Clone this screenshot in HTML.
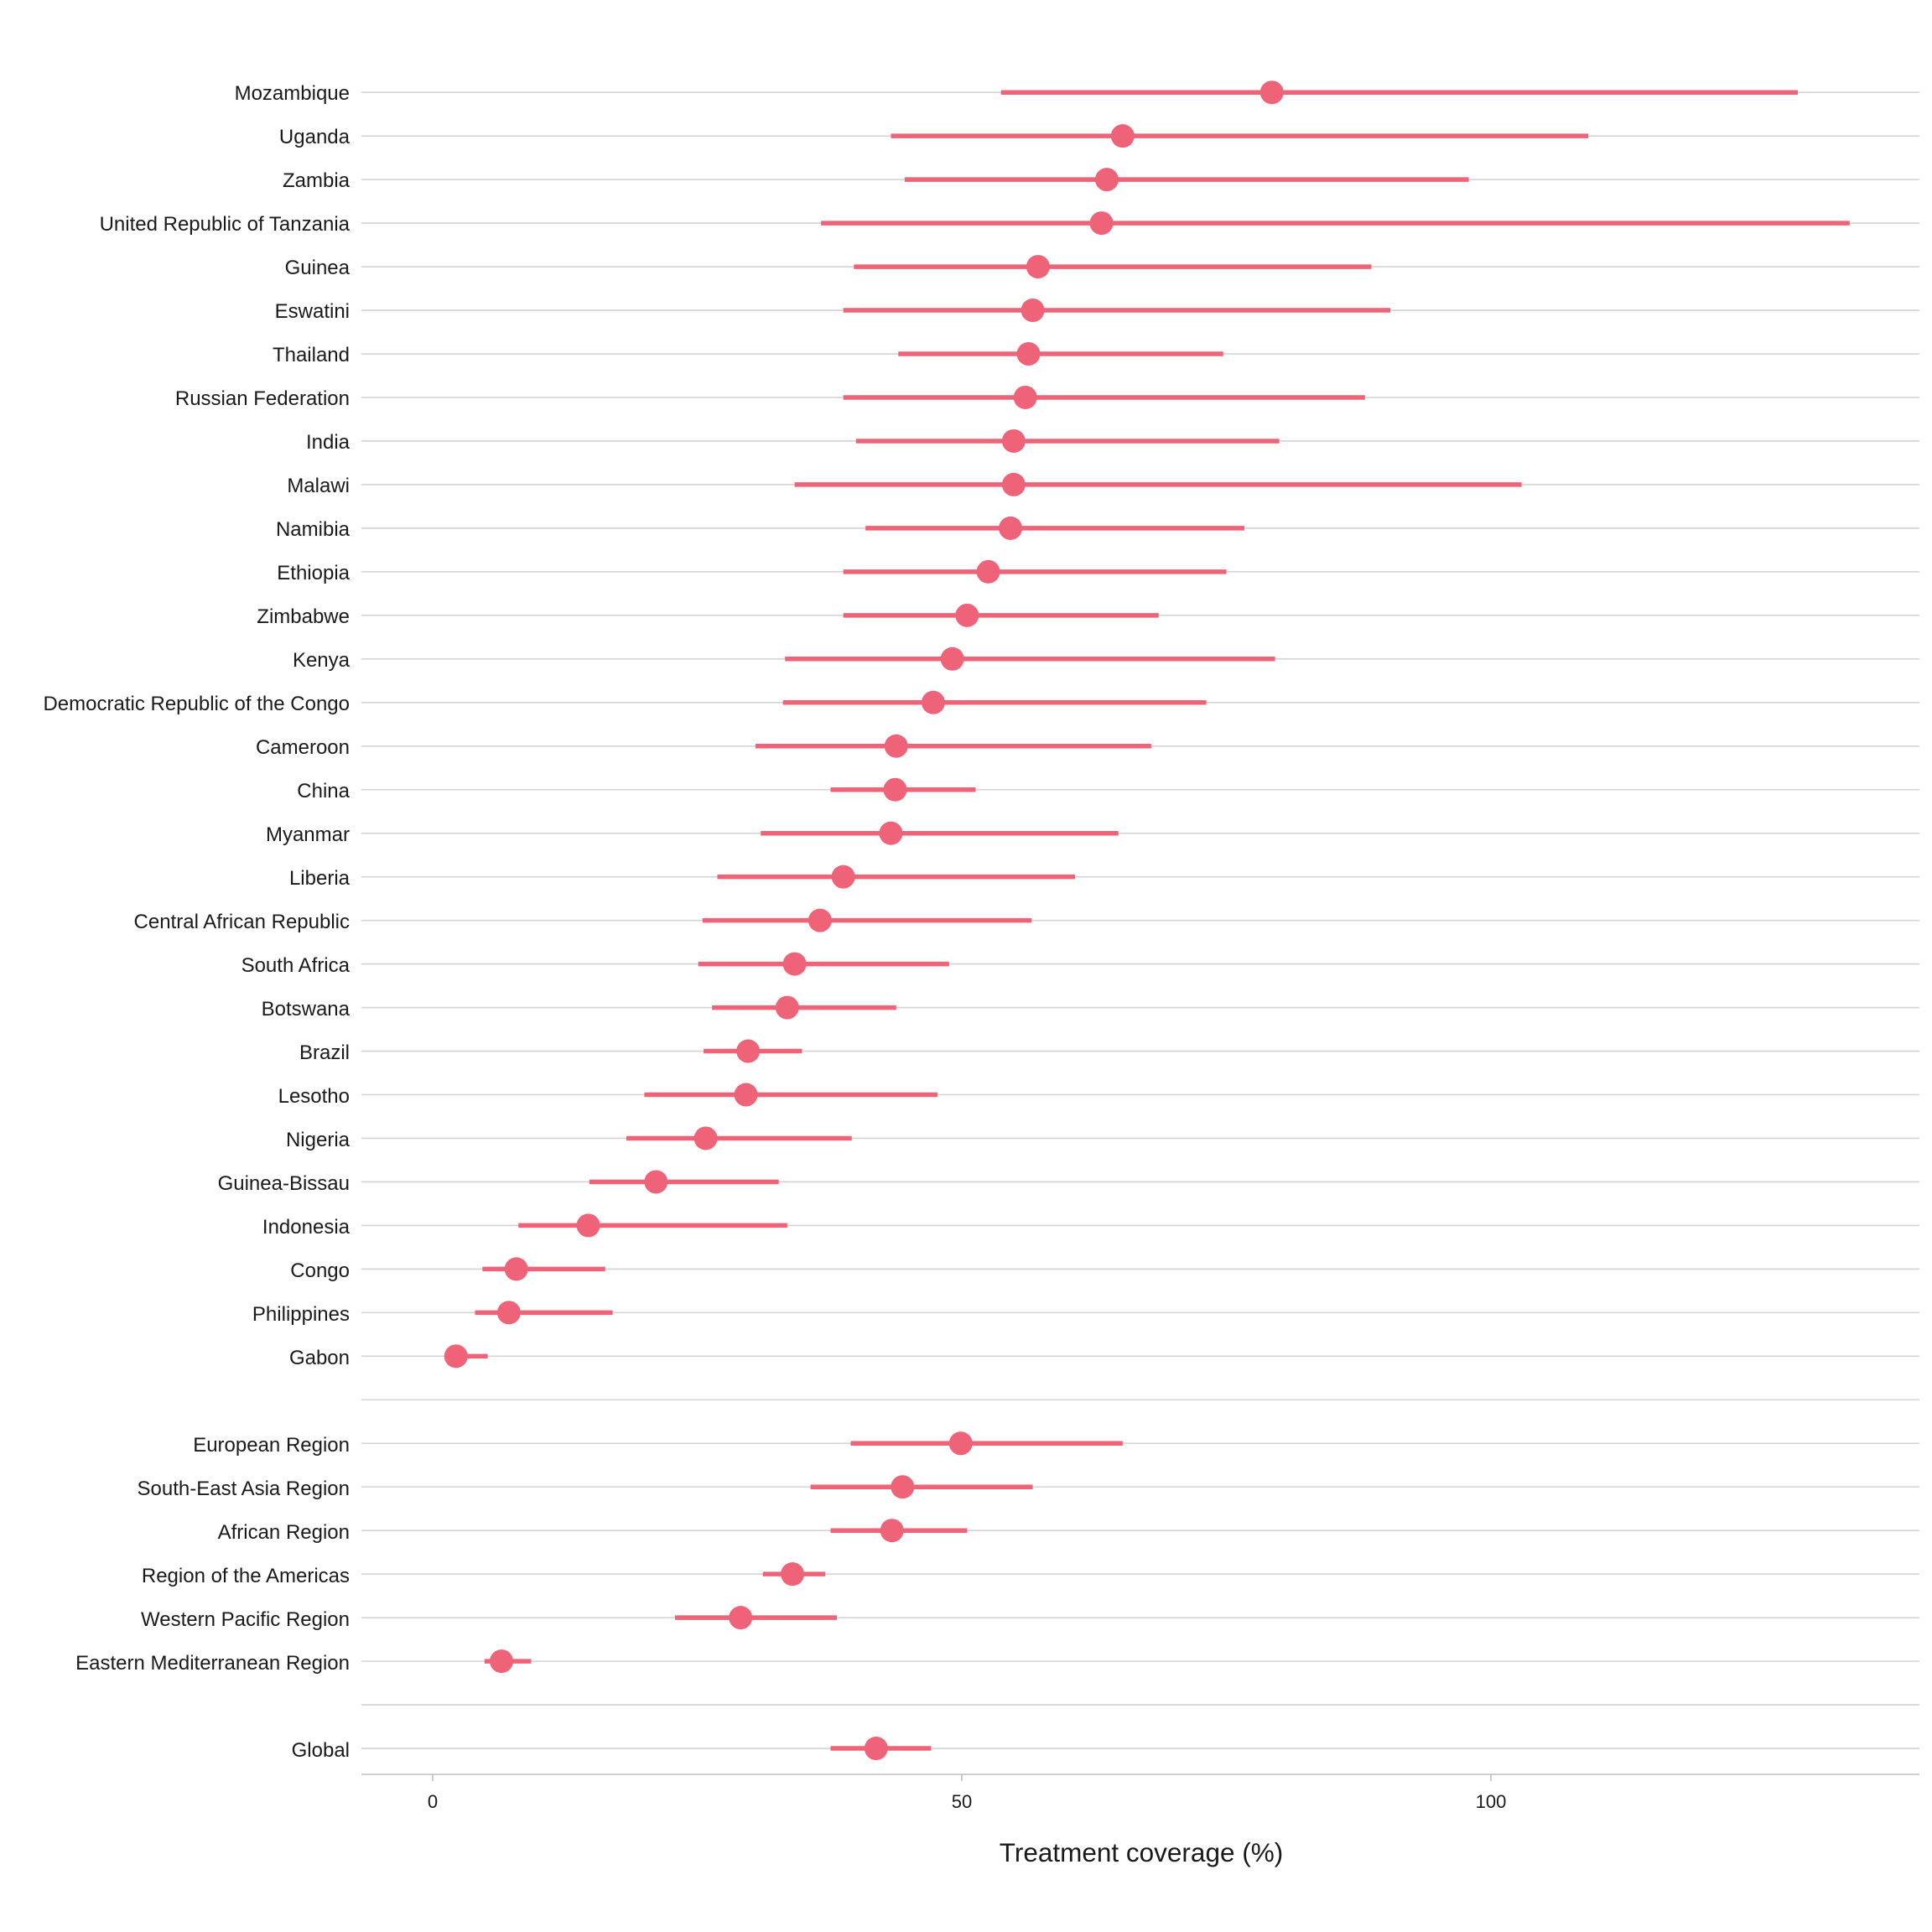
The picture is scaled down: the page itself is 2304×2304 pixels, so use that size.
<!DOCTYPE html>
<html><head><meta charset="utf-8"><style>
html,body{margin:0;padding:0;background:#fff;}
svg{display:block;}
text{font-family:"Liberation Sans",Arial,sans-serif;fill:#1a1a1a;}
</style></head><body>
<svg id="s" width="2304" height="2304" viewBox="0 0 2304 2304" xmlns="http://www.w3.org/2000/svg">
<g id="grid"></g>
<g id="data"></g>
<g font-size="24" text-anchor="end" id="labels">
<text x="417" y="119">Mozambique</text>
<text x="417" y="171">Uganda</text>
<text x="417" y="223">Zambia</text>
<text x="417" y="275">United Republic of Tanzania</text>
<text x="417" y="327">Guinea</text>
<text x="417" y="379">Eswatini</text>
<text x="417" y="431">Thailand</text>
<text x="417" y="483">Russian Federation</text>
<text x="417" y="535">India</text>
<text x="417" y="587">Malawi</text>
<text x="417" y="639">Namibia</text>
<text x="417" y="691">Ethiopia</text>
<text x="417" y="743">Zimbabwe</text>
<text x="417" y="795">Kenya</text>
<text x="417" y="847">Democratic Republic of the Congo</text>
<text x="417" y="899">Cameroon</text>
<text x="417" y="951">China</text>
<text x="417" y="1003">Myanmar</text>
<text x="417" y="1055">Liberia</text>
<text x="417" y="1107">Central African Republic</text>
<text x="417" y="1159">South Africa</text>
<text x="417" y="1211">Botswana</text>
<text x="417" y="1263">Brazil</text>
<text x="417" y="1315">Lesotho</text>
<text x="417" y="1367">Nigeria</text>
<text x="417" y="1419">Guinea-Bissau</text>
<text x="417" y="1471">Indonesia</text>
<text x="417" y="1523">Congo</text>
<text x="417" y="1575">Philippines</text>
<text x="417" y="1627">Gabon</text>
<text x="417" y="1731">European Region</text>
<text x="417" y="1783">South-East Asia Region</text>
<text x="417" y="1835">African Region</text>
<text x="417" y="1887">Region of the Americas</text>
<text x="417" y="1939">Western Pacific Region</text>
<text x="417" y="1991">Eastern Mediterranean Region</text>
<text x="417" y="2095">Global</text>
</g>
<g font-size="22" text-anchor="middle" fill="#333">
<text x="516" y="2156">0</text>
<text x="1147" y="2156">50</text>
<text x="1778" y="2156">100</text>
</g>
<text x="1361" y="2220" font-size="31.5" text-anchor="middle">Treatment coverage (%)</text>
</svg>
<script>
var d=[[79.3,53.7,129],[65.2,43.3,109.2],[63.7,44.6,97.9],[63.2,36.7,133.9],[57.2,39.8,88.7],[56.7,38.8,90.5],[56.3,44.0,74.7],[56.0,38.8,88.1],[54.9,40.0,80.0],[54.9,34.2,102.9],[54.6,40.9,76.7],[52.5,38.8,75.0],[50.5,38.8,68.6],[49.1,33.3,79.6],[47.3,33.1,73.1],[43.8,30.5,67.9],[43.7,37.6,51.3],[43.3,31.0,64.8],[38.8,26.9,60.7],[36.6,25.5,56.6],[34.2,25.1,48.8],[33.5,26.4,43.8],[29.8,25.6,34.9],[29.6,20.0,47.7],[25.8,18.3,39.6],[21.1,14.8,32.7],[14.7,8.1,33.5],[7.9,4.7,16.3],[7.2,4.0,17.0],[2.2,1.5,5.2],null,[49.9,39.5,65.2],[44.4,35.7,56.7],[43.4,37.6,50.5],[34.0,31.2,37.1],[29.1,22.9,38.2],[6.5,4.9,9.3],null,[41.9,37.6,47.1]];
var ns="http://www.w3.org/2000/svg";
function X(v){return 516+v*12.62;}
function el(p,t,a){var e=document.createElementNS(ns,t);for(var k in a)e.setAttribute(k,a[k]);document.getElementById(p).appendChild(e);}
for(var i=0;i<d.length;i++){var y=110.2+i*51.97;
el("grid","line",{x1:431,x2:2289,y1:y,y2:y,stroke:"#d3d3d3","stroke-width":1.6});
if(d[i]){el("data","line",{x1:X(d[i][1]),x2:X(d[i][2]),y1:y,y2:y,stroke:"#ee6377","stroke-width":5.5});
el("data","circle",{cx:X(d[i][0]),cy:y,r:14,fill:"#ee6377"});}}
el("grid","line",{x1:431,x2:2289,y1:2116,y2:2116,stroke:"#bdbdbd","stroke-width":1.6});
[0,50,100].forEach(function(v){el("grid","line",{x1:X(v),x2:X(v),y1:2116,y2:2124,stroke:"#bdbdbd","stroke-width":1.6});});
</script>
</body></html>
